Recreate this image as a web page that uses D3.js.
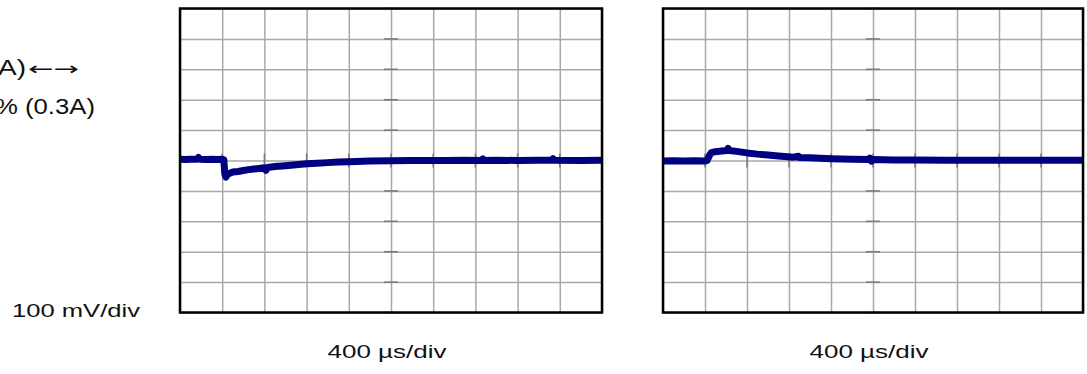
<!DOCTYPE html>
<html>
<head>
<meta charset="utf-8">
<script src="https://cdn.jsdelivr.net/npm/d3@7"></script>
<style>
  html, body { margin: 0; padding: 0; background: #fff; }
  svg { display: block; }
  text { font-family: "Liberation Sans", Arial, sans-serif; fill: #111; }
</style>
</head>
<body>
<svg id="chart" width="1087" height="374"></svg>
<script>
// Scope divisions: 400 µs/div horizontally, 100 mV/div vertically
const timeDivs = [0, 400, 800, 1200, 1600, 2000, 2400, 2800, 3200, 3600, 4000];
const voltDivs = [-500, -400, -300, -200, -100, 0, 100, 200, 300, 400, 500];

// Load step up: output voltage deviation (mV) vs time (µs)
const stepUpTime = [0, 60, 100, 160, 175, 190, 250, 300, 350, 400, 415, 425, 435, 450, 500, 550, 600, 650, 700, 750, 800, 815, 830, 900, 1000, 1100, 1200, 1300, 1400, 1500, 1600, 1800, 2000, 2200, 2500, 2700, 2860, 2870, 2880, 3000, 3200, 3400, 3525, 3535, 3545, 3800, 4000];
const stepUpMv   = [4, 3, 4, 4, 10, 4, 3, 4, 3, 4, 3, -45, -55, -45, -38, -36, -33, -30, -28, -26, -24, -32, -23, -20, -17, -14, -11, -9, -7, -5, -4, -2, -1, 0, 0, 1, 0, 5, 0, 1, 0, 1, 1, 6, 1, 0, 1];

// Load step down: output voltage deviation (mV) vs time (µs)
const stepDownTime = [0, 100, 200, 300, 400, 420, 440, 460, 500, 560, 610, 620, 630, 700, 800, 900, 1000, 1100, 1240, 1290, 1300, 1400, 1600, 1800, 1960, 1970, 1985, 2000, 2200, 2400, 2700, 3000, 3500, 4000];
const stepDownMv   = [-2, -1, -2, -1, -2, 0, 15, 26, 29, 31, 33, 40, 33, 30, 25, 21, 18, 15, 11, 14, 10, 9, 6, 4, 3, 8, -2, 3, 2, 2, 1, 1, 1, 1];

const svg = d3.select("#chart");
const plotTop = 8.5, plotBottom = 312.5;
const panels = [
  { id: "up",   x0: 180, x1: 602,  t: stepUpTime,   v: stepUpMv,   label: "400 µs/div" },
  { id: "down", x0: 663, x1: 1083, t: stepDownTime, v: stepDownMv, label: "400 µs/div" }
];

panels.forEach(p => {
  const x = d3.scaleLinear().domain([0, 4000]).range([p.x0, p.x1]);
  const y = d3.scaleLinear().domain([-500, 500]).range([plotBottom, plotTop]);
  const g = svg.append("g");

  svg.append("clipPath").attr("id", "clip-" + p.id)
    .append("rect").attr("x", p.x0).attr("y", plotTop)
    .attr("width", p.x1 - p.x0).attr("height", plotBottom - plotTop);

  // grid
  const gx = g.append("g").attr("transform", `translate(0,${plotBottom})`)
    .call(d3.axisBottom(x).tickValues(timeDivs).tickSize(-(plotBottom - plotTop)).tickFormat(""));
  const gy = g.append("g").attr("transform", `translate(${p.x0},0)`)
    .call(d3.axisLeft(y).tickValues(voltDivs).tickSize(-(p.x1 - p.x0)).tickFormat(""));
  [gx, gy].forEach(a => {
    a.select(".domain").remove();
    a.selectAll(".tick line").attr("stroke", "#a8a8a8").attr("stroke-width", 1.5);
  });

  // centre-line graticule ticks
  const cx = x(2000), cy = y(0);
  g.append("g").selectAll("line").data(voltDivs).join("line")
    .attr("x1", cx - 7).attr("x2", cx + 7)
    .attr("y1", d => y(d)).attr("y2", d => y(d))
    .attr("stroke", "#7a7a7a").attr("stroke-width", 1.5);
  g.append("g").selectAll("line").data(timeDivs).join("line")
    .attr("y1", cy - 7).attr("y2", cy + 7)
    .attr("x1", d => x(d)).attr("x2", d => x(d))
    .attr("stroke", "#7a7a7a").attr("stroke-width", 1.5);

  // waveform
  const pts = p.t.map((t, i) => ({ t, v: p.v[i] }));
  g.append("path").datum(pts)
    .attr("clip-path", `url(#clip-${p.id})`)
    .attr("fill", "none")
    .attr("stroke", "#000080")
    .attr("stroke-width", 7)
    .attr("stroke-linejoin", "round")
    .attr("d", d3.line().x(d => x(d.t)).y(d => y(d.v)));

  // frame
  g.append("rect").attr("x", p.x0).attr("y", plotTop)
    .attr("width", p.x1 - p.x0).attr("height", plotBottom - plotTop)
    .attr("fill", "none").attr("stroke", "#000").attr("stroke-width", 2.5);

  // time-base label
  g.append("text").attr("x", (p.x0 + p.x1) / 2 - 4).attr("y", 358)
    .attr("text-anchor", "middle").attr("font-size", 18.5)
    .attr("textLength", 119).attr("lengthAdjust", "spacingAndGlyphs")
    .text(p.label);
});

// side annotations
svg.append("text").attr("x", 12).attr("y", 317).attr("font-size", 17.5)
  .attr("textLength", 128).attr("lengthAdjust", "spacingAndGlyphs")
  .text("100 mV/div");
const loadLine = svg.append("text").attr("y", 75).attr("font-size", 22);
loadLine.append("tspan").attr("x", -2)
  .attr("textLength", 28).attr("lengthAdjust", "spacingAndGlyphs")
  .text("A)");
loadLine.append("tspan").attr("x", 28)
  .style("font-family", "'DejaVu Sans', sans-serif").attr("font-size", 18)
  .attr("textLength", 51).attr("lengthAdjust", "spacingAndGlyphs")
  .text("←→");
svg.append("text").attr("x", -5).attr("y", 114).attr("font-size", 22)
  .attr("textLength", 100).attr("lengthAdjust", "spacingAndGlyphs")
  .text("% (0.3A)");
</script>
</body>
</html>
